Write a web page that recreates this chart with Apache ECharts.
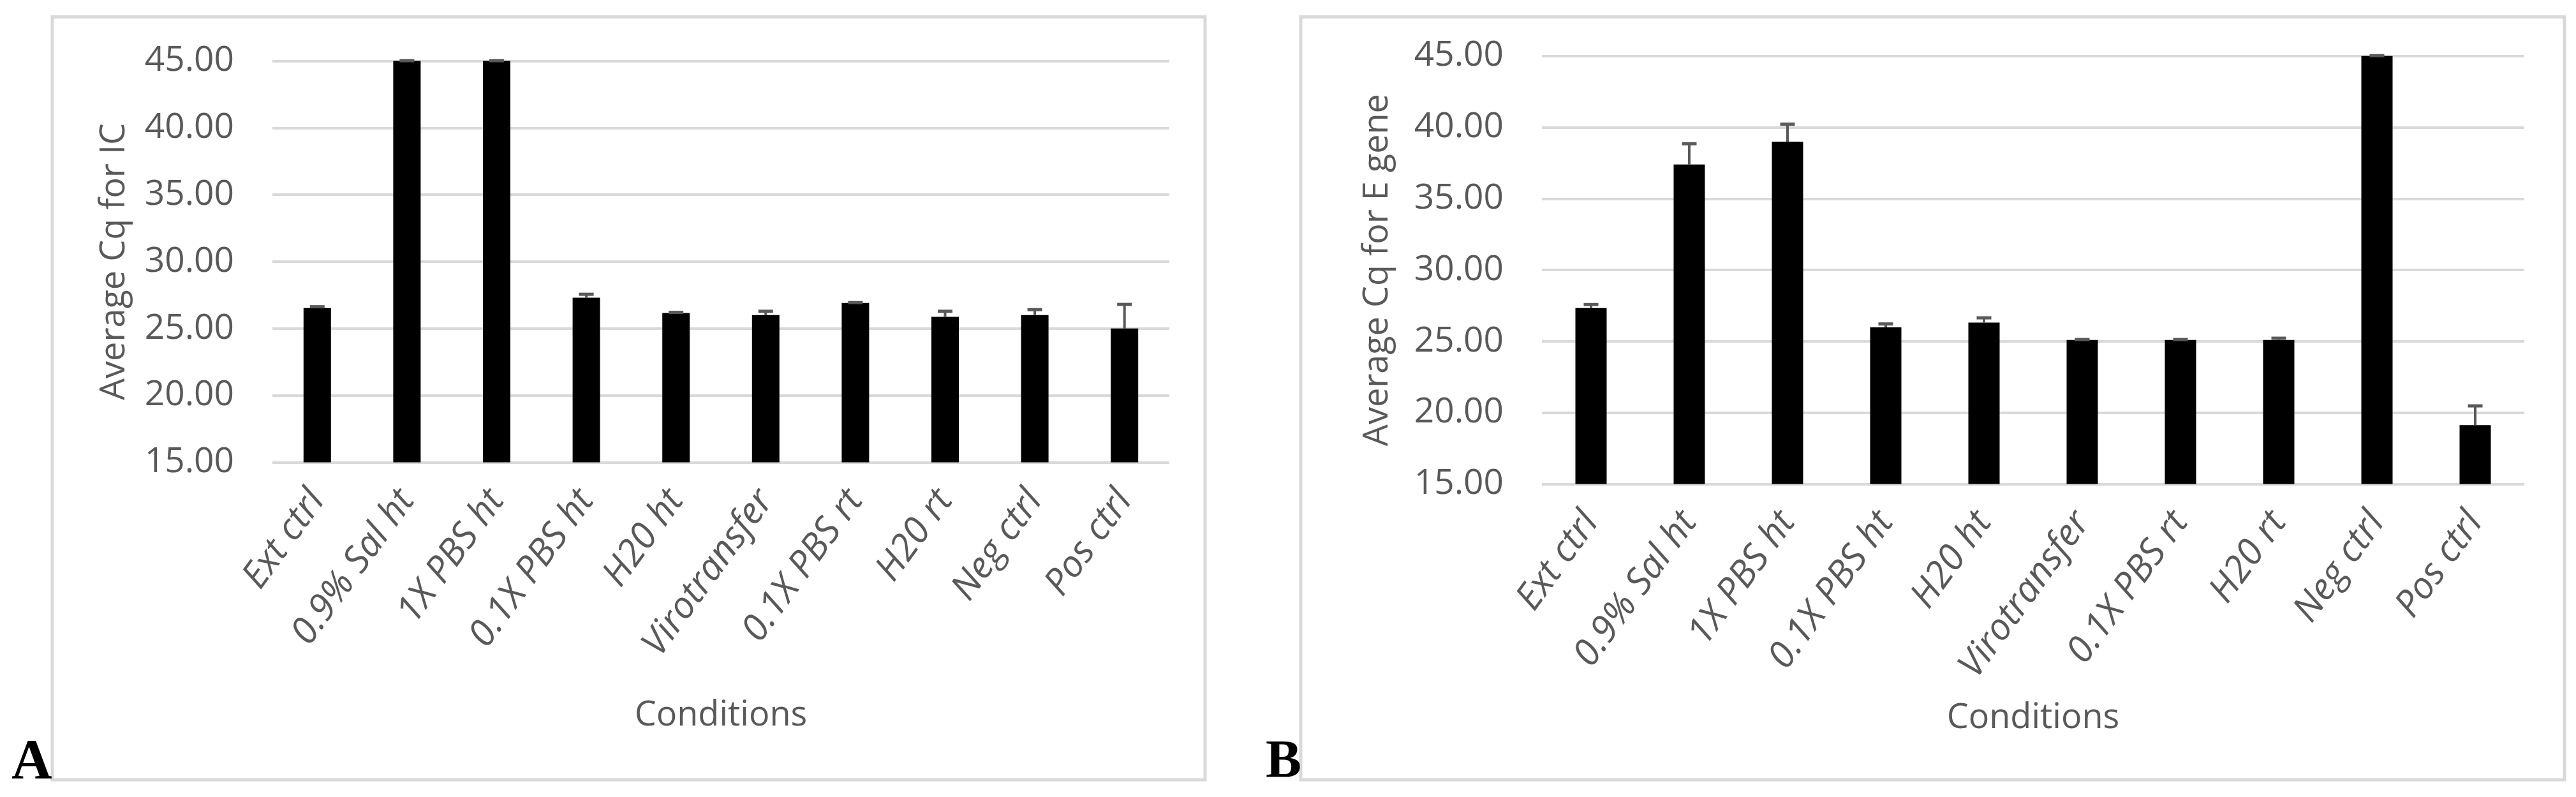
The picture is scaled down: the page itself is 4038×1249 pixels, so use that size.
<!DOCTYPE html>
<html>
<head>
<meta charset="utf-8">
<script src="https://cdn.jsdelivr.net/npm/echarts@6/dist/echarts.min.js"></script>
<style>
html,body{margin:0;padding:0;background:#fff;}
#chart{width:4038px;height:1249px;}
</style>
</head>
<body>
<div id="chart"></div>
<script>
const categories = ['Ext ctrl','0.9% Sal ht','1X PBS ht','0.1X PBS ht','H20 ht','Virotransfer','0.1X PBS rt','H20 rt','Neg ctrl','Pos ctrl'];
const icMeans = [26.53, 45.00, 45.00, 27.30, 26.16, 26.01, 26.91, 25.88, 26.01, 25.00];
const icErr   = [0.10, 0.02, 0.02, 0.26, 0.05, 0.28, 0.03, 0.41, 0.40, 1.80];
const eMeans  = [27.33, 37.40, 38.99, 25.98, 26.32, 25.10, 25.10, 25.10, 45.00, 19.13];
const eErr    = [0.25, 1.45, 1.23, 0.24, 0.33, 0.03, 0.03, 0.12, 0.02, 1.35];
const yTicks = {min: 15, max: 45, interval: 5};
const yTitleA = 'Average Cq for IC';
const yTitleB = 'Average Cq for E gene';
const xTitle = 'Conditions';

const FONT = '"Open Sans", "Noto Sans", sans-serif';
const TXT = '#595959';
const GRIDC = '#d9d9d9';

function errRender(capW){
  return function(params, api){
    const x = api.value(0), m = api.value(1), e = api.value(2);
    const top = api.coord([x, m + e]);
    const base = api.coord([x, m]);
    return {type:'group', children:[
      {type:'line', shape:{x1:top[0], y1:top[1], x2:base[0], y2:base[1]}, style:{stroke:'#595959', lineWidth:4}},
      {type:'line', shape:{x1:top[0]-capW/2, y1:top[1], x2:top[0]+capW/2, y2:top[1]}, style:{stroke:'#595959', lineWidth:5}}
    ]};
  };
}

function xAxisCfg(gridIndex, gap){
  return {
    type:'category', gridIndex, data: categories,
    axisLine:{show:false}, axisTick:{show:false},
    axisLabel:{interval:0, rotate:54, margin:50, color:TXT, fontFamily:FONT, fontSize:58, fontStyle:'italic'},
    name: xTitle, nameLocation:'middle', nameGap: gap,
    nameTextStyle:{color:TXT, fontFamily:FONT, fontSize:54}
  };
}
function yAxisCfg(gridIndex, title, gap){
  return {
    type:'value', gridIndex, min:yTicks.min, max:yTicks.max, interval:yTicks.interval,
    axisLine:{show:false}, axisTick:{show:false},
    axisLabel:{margin:60, color:TXT, fontFamily:FONT, fontSize:55, formatter:v=>v.toFixed(2)},
    splitLine:{show:true, lineStyle:{color:GRIDC, width:4}},
    name: title, nameLocation:'middle', nameRotate:90, nameGap: gap,
    nameTextStyle:{color:TXT, fontFamily:FONT, fontSize:54}
  };
}

const chart = echarts.init(document.getElementById('chart'), null, {renderer:'canvas'});
chart.setOption({
  backgroundColor:'#ffffff',
  animation:false,
  grid:[
    {left:427, right:4038-1833, top:95.5, bottom:1249-724.5},
    {left:2417, right:4038-3957, top:87.7, bottom:1249-758.6}
  ],
  xAxis:[xAxisCfg(0, 370), xAxisCfg(1, 340)],
  yAxis:[yAxisCfg(0, yTitleA, 220), yAxisCfg(1, yTitleB, 230)],
  series:[
    {type:'bar', xAxisIndex:0, yAxisIndex:0, data:icMeans, barWidth:43, itemStyle:{color:'#000'}},
    {type:'custom', xAxisIndex:0, yAxisIndex:0, renderItem:errRender(23), z:5,
      data: categories.map((c,i)=>[i, icMeans[i], icErr[i]])},
    {type:'bar', xAxisIndex:1, yAxisIndex:1, data:eMeans, barWidth:49, itemStyle:{color:'#000'}},
    {type:'custom', xAxisIndex:1, yAxisIndex:1, renderItem:errRender(23), z:5,
      data: categories.map((c,i)=>[i, eMeans[i], eErr[i]])}
  ],
  graphic:[
    {type:'rect', shape:{x:82, y:26.5, width:1807, height:1195.5}, style:{fill:'none', stroke:GRIDC, lineWidth:5}, z:-1},
    {type:'rect', shape:{x:2039, y:26.5, width:1981, height:1195.5}, style:{fill:'none', stroke:GRIDC, lineWidth:5}, z:-1},
    {type:'text', x:18, y:1196, style:{text:'A', font:'bold 88px "Liberation Serif", serif', fill:'#000', textVerticalAlign:'middle'}},
    {type:'text', x:1984, y:1196, style:{text:'B', font:'bold 84px "Liberation Serif", serif', fill:'#000', textVerticalAlign:'middle'}}
  ]
});
</script>
</body>
</html>
